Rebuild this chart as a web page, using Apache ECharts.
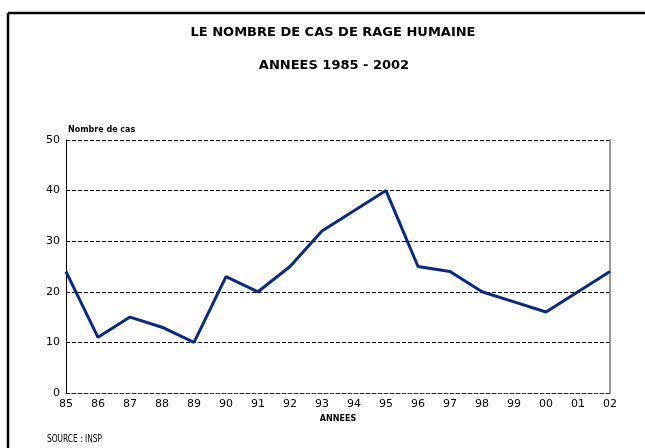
<!DOCTYPE html>
<html>
<head>
<meta charset="utf-8">
<script src="https://cdn.jsdelivr.net/npm/echarts@6/dist/echarts.min.js"></script>
<style>
  html, body { margin: 0; padding: 0; background: #fff; }
  #chart { width: 645px; height: 448px; }
</style>
</head>
<body>
<div id="chart"></div>
<script>
// years (two-digit labels as in the source)
const years = ['85', '86', '87', '88', '89', '90', '91', '92', '93', '94', '95', '96', '97', '98', '99', '00', '01', '02']
// human rabies cases per year
const cases = [24, 11, 15, 13, 10, 23, 20, 25, 32, 36, 40, 25, 24, 20, 18, 16, 20, 24]
const yTicks = [0, 10, 20, 30, 40, 50]

const myChart = echarts.init(document.getElementById('chart'))

const font = '"DejaVu Sans", Verdana, sans-serif'

const option = {
  backgroundColor: '#fff',
  animation: false,
  title: [
    {
      text: 'LE NOMBRE DE CAS DE RAGE HUMAINE',
      left: 328,
      top: 21,
      textAlign: 'center',
      textStyle: { fontFamily: font, fontSize: 13, fontWeight: 'bold', color: '#000' }
    },
    {
      text: 'ANNEES 1985 - 2002',
      left: 329,
      top: 54,
      textAlign: 'center',
      textStyle: { fontFamily: font, fontSize: 13, fontWeight: 'bold', color: '#000' }
    }
  ],
  grid: {
    left: 66,
    right: 35,
    top: 140,
    bottom: 55
  },
  xAxis: {
    type: 'category',
    data: years,
    boundaryGap: false,
    name: 'ANNEES',
    nameLocation: 'middle',
    nameGap: 21,
    nameTextStyle: { fontFamily: font, fontSize: 8, fontWeight: 'bold', color: '#000' },
    axisLine: { lineStyle: { color: '#333', type: 'dashed', width: 1 } },
    axisTick: { show: false },
    axisLabel: { fontFamily: font, fontSize: 11, color: '#000', margin: 6 },
    splitLine: { show: false }
  },
  yAxis: [
    {
      type: 'value',
      min: yTicks[0],
      max: yTicks[yTicks.length - 1],
      interval: 10,
      name: 'Nombre de cas',
      nameLocation: 'end',
      nameGap: 6,
      nameTextStyle: { fontFamily: font, fontSize: 8, fontWeight: 'bold', color: '#000', align: 'left', padding: [0, 0, 0, 2] },
      axisLine: { show: true, lineStyle: { color: '#000', width: 1 } },
      axisTick: { show: false },
      axisLabel: { fontFamily: font, fontSize: 11, color: '#000', margin: 6 },
      splitLine: { show: true, lineStyle: { color: '#000', type: 'dashed', width: 1 } }
    },
    {
      type: 'value',
      position: 'right',
      min: 0,
      max: 50,
      interval: 10,
      axisLine: { show: true, lineStyle: { color: '#777', width: 1.5 } },
      axisTick: { show: false },
      axisLabel: { show: false },
      splitLine: { show: false }
    }
  ],
  graphic: [
    {
      type: 'line',
      shape: { x1: 8, y1: 13, x2: 645, y2: 13 },
      style: { stroke: '#000', lineWidth: 2.5 }
    },
    {
      type: 'line',
      shape: { x1: 8, y1: 13, x2: 8, y2: 448 },
      style: { stroke: '#000', lineWidth: 2.5 }
    },
    {
      type: 'text',
      x: 47,
      y: 434,
      scaleX: 0.83,
      style: {
        text: 'SOURCE : INSP',
        font: '10px "DejaVu Sans Condensed", "Liberation Sans Narrow", sans-serif',
        fill: '#000'
      }
    }
  ],
  series: [
    {
      name: 'Nombre de cas',
      type: 'line',
      data: cases,
      symbol: 'none',
      lineStyle: { color: '#0a2a7f', width: 3 }
    }
  ]
}

myChart.setOption(option)
</script>
</body>
</html>
